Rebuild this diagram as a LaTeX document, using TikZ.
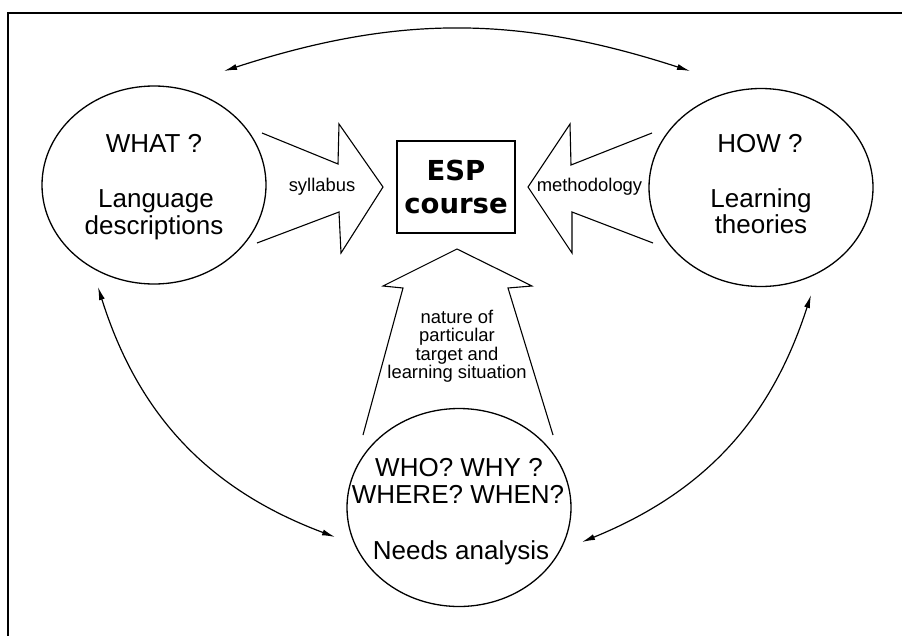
\documentclass[tikz,border=0pt]{standalone}
\usepackage{fontspec}
\setmainfont{Liberation Sans}
\newfontfamily\heavyfont{DejaVu Sans}
\usetikzlibrary{shapes.geometric,arrows.meta}
\begin{document}
\begin{tikzpicture}[x=1pt,y=-1pt,
  bubble/.style={draw, ellipse, line width=1.3pt, minimum width=224pt, minimum height=198pt, inner sep=0pt},
  bigtxt/.style={anchor=base, inner sep=0pt, font=\fontsize{26}{27}\selectfont},
  smalltxt/.style={anchor=base, inner sep=0pt, font=\fontsize{18.4}{18}\selectfont},
  blockarrow/.style={line width=1.1pt, line join=miter},
  link/.style={line width=1.2pt, {Latex[length=13pt,width=6pt]}-{Latex[length=13pt,width=6pt]}},
  espbox/.style={draw, line width=1.6pt, minimum width=118pt, minimum height=92pt, align=center,
    font=\heavyfont\bfseries\fontsize{27.5}{32.4}\selectfont, inner sep=0pt},
]
\fill[white] (0,0) rectangle (902,635);
\useasboundingbox (0,0) rectangle (902,635);

% frame
\draw[line width=1.8pt] (8,640) -- (8,13) -- (910,13);

% the three areas and the course
\node[bubble] (what) at (154,185) {};
\node[bubble] (how) at (761,187.5) {};
\node[bubble] (who) at (459,507.5) {};
\node[espbox] (esp) at (456,187) {ESP\\course};

% texts inside the areas
\node[bigtxt] (whatq) at (154,152) {WHAT ?};
\node[bigtxt] (whatl1) at (156,207) {Language};
\node[bigtxt] (whatl2) at (154,234) {descriptions};
\node[bigtxt] (howq) at (760,152) {HOW ?};
\node[bigtxt] (howl1) at (761,207) {Learning};
\node[bigtxt] (howl2) at (761,233) {theories};
\node[bigtxt] (whol1) at (459,476) {WHO? WHY ?};
\node[bigtxt] (whol2) at (458,503) {WHERE? WHEN?};
\node[bigtxt] (whol3) at (461,559) {Needs analysis};

% block arrows feeding the course
\draw[blockarrow] (262,133) -- (338,164) -- (339,124) -- (383,187) -- (341,253) -- (339,212) -- (257,243);
\draw[blockarrow] (652,133) -- (571,165) -- (570,124) -- (528,187) -- (572,253) -- (572,212) -- (653,243);
\draw[blockarrow] (363,435) -- (403,288) -- (383,286) -- (457,249) -- (532,286) -- (508,288) -- (553,435);

\node[smalltxt] (syl) at (322,191) {syllabus};
\node[smalltxt] (meth) at (589.5,191) {methodology};
\node[smalltxt] (nat1) at (457,323) {nature of};
\node[smalltxt] (nat2) at (457,341.5) {particular};
\node[smalltxt] (nat3) at (457,360) {target and};
\node[smalltxt] (nat4) at (457,378) {learning situation};

% two-way links between the areas
\coordinate (tl) at (224,71);
\coordinate (tr) at (690,71);
\coordinate (lt) at (98,287);
\coordinate (lb) at (335,537);
\coordinate (rt) at (811,295);
\coordinate (rb) at (582,542);
\draw[link] (tl) to[bend left=18] (tr);
\draw[link] (lt) to[bend right=26] (lb);
\draw[link] (rt) to[bend left=25] (rb);
\end{tikzpicture}
\end{document}
